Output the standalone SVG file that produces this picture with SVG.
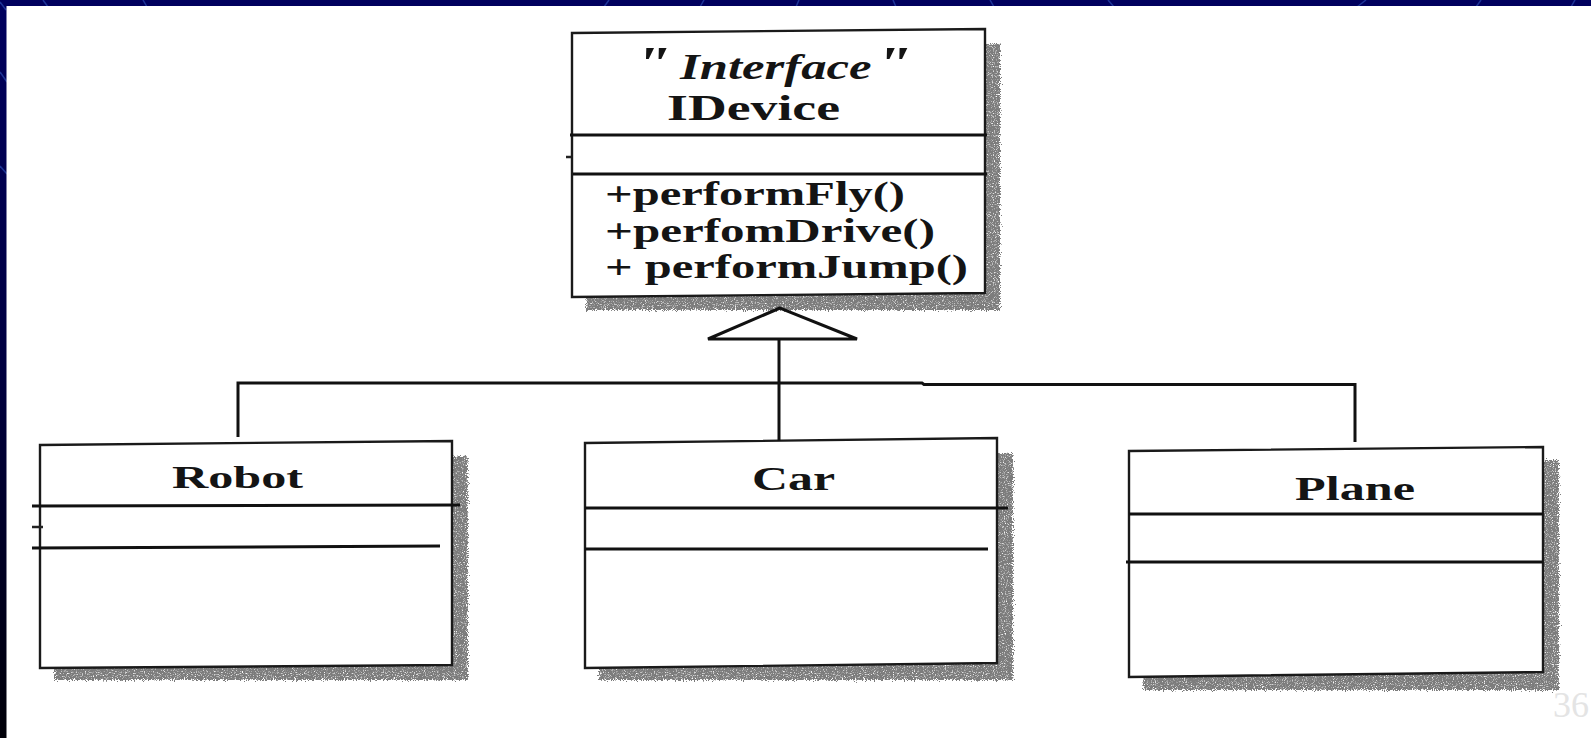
<svg xmlns="http://www.w3.org/2000/svg" width="1591" height="738" viewBox="0 0 1591 738">
  <defs>
    <linearGradient id="bgGrad" x1="0" y1="0" x2="0" y2="1">
      <stop offset="0" stop-color="#00005e"/>
      <stop offset="0.5" stop-color="#000040"/>
      <stop offset="1" stop-color="#000008"/>
    </linearGradient>
    <!-- rough, grainy drop shadow behind each class box -->
    <filter id="grain" x="-5%" y="-10%" width="112%" height="125%">
      <feTurbulence type="fractalNoise" baseFrequency="0.9" numOctaves="2" seed="7" result="noise"/>
      <feDisplacementMap in="SourceGraphic" in2="noise" scale="8" xChannelSelector="R" yChannelSelector="G" result="rough"/>
      <feColorMatrix in="noise" type="matrix" values="0 0 0 0 0.2  0 0 0 0 0.2  0 0 0 0 0.2  0 0 0 3.2 -0.5" result="speck"/>
      <feComposite in="speck" in2="rough" operator="in" result="grainy"/>
      <feGaussianBlur in="grainy" stdDeviation="0.6"/>
    </filter>
    <style>
      .shadow { fill: #333; filter: url(#grain); }
      .box { fill: #fff; stroke: #1a1a1a; stroke-width: 2.4; stroke-linejoin: miter; }
      .div { stroke: #111; stroke-width: 3; fill: none; }
      .tick { stroke: #222; stroke-width: 2.5; }
      .name { font-family: "Liberation Serif", "Times New Roman", serif; font-weight: bold; fill: #141414; }
      .op { font-family: "Liberation Serif", "Times New Roman", serif; font-weight: bold; fill: #141414; font-size: 34px; }
      .wire { stroke: #111; stroke-width: 3; fill: none; }
      .deco { stroke: #2a4ab0; stroke-width: 1.5; opacity: 0.7; fill: none; }
    </style>
  </defs>

  <!-- slide background and white content panel -->
  <rect x="0" y="0" width="1591" height="738" fill="url(#bgGrad)"/>
  <g class="deco">
    <line x1="43" y1="0" x2="48" y2="7"/>
    <line x1="143" y1="0" x2="147" y2="7"/>
    <line x1="604" y1="7" x2="609" y2="0"/>
    <line x1="700" y1="7" x2="704" y2="0"/>
    <line x1="796" y1="7" x2="799" y2="0"/>
    <line x1="893" y1="0" x2="896" y2="7"/>
    <line x1="990" y1="0" x2="994" y2="7"/>
    <line x1="1108" y1="0" x2="1114" y2="7"/>
    <line x1="1357" y1="7" x2="1366" y2="0"/>
    <line x1="1476" y1="7" x2="1481" y2="0"/>
    <line x1="1571" y1="7" x2="1575" y2="0"/>
    <line x1="0" y1="72" x2="7" y2="82"/>
    <line x1="0" y1="166" x2="7" y2="174"/>
    <line x1="0" y1="2" x2="6" y2="10"/>
  </g>
  <rect x="6.5" y="6" width="1584.5" height="732" fill="#fff"/>

  <!-- page number -->
  <text x="1553" y="717" font-family="Liberation Serif, serif" font-size="36" fill="#e4e4e4">36</text>

  <!-- IDevice interface -->
  <g id="idevice">
    <rect class="shadow" x="586" y="44" width="414" height="266"/>
    <path class="box" d="M572,33 L985,29 L985,293 L572,297 Z"/>
    <line class="div" x1="570" y1="135" x2="987" y2="135"/>
    <line class="div" x1="573" y1="174" x2="987" y2="174"/>
    <line class="tick" x1="566" y1="157" x2="571" y2="157"/>
    <text transform="translate(634,79) scale(1.45,1)" font-family="Liberation Serif, serif" font-style="italic" font-weight="bold" fill="#141414"><tspan font-size="46">"</tspan><tspan x="31.7" font-size="35">Interface</tspan><tspan x="166" font-size="46">"</tspan></text>
    <text class="name" x="667" y="120" font-size="35" textLength="173" lengthAdjust="spacingAndGlyphs">IDevice</text>
    <text class="op" x="605" y="205" textLength="300" lengthAdjust="spacingAndGlyphs">+performFly()</text>
    <text class="op" x="605" y="242" textLength="330" lengthAdjust="spacingAndGlyphs">+perfomDrive()</text>
    <text class="op" x="605" y="278" textLength="363" lengthAdjust="spacingAndGlyphs">+ performJump()</text>
  </g>

  <!-- Robot class -->
  <g id="robot">
    <rect class="shadow" x="54" y="456" width="414" height="224"/>
    <path class="box" d="M40,445 L452,441 L452,665 L40,668 Z"/>
    <line class="div" x1="32" y1="506" x2="460" y2="505"/>
    <line class="div" x1="32" y1="548" x2="440" y2="546"/>
    <line class="tick" x1="32" y1="527" x2="43" y2="527"/>
    <text class="name" x="172" y="488" font-size="32" textLength="131" lengthAdjust="spacingAndGlyphs">Robot</text>
  </g>

  <!-- Car class -->
  <g id="car">
    <rect class="shadow" x="599" y="453" width="414" height="227"/>
    <path class="box" d="M585,443 L997,438 L997,663 L585,668 Z"/>
    <line class="div" x1="585" y1="508" x2="1008" y2="508"/>
    <line class="div" x1="585" y1="549" x2="988" y2="549"/>
    <text class="name" x="752" y="490" font-size="33" textLength="83" lengthAdjust="spacingAndGlyphs">Car</text>
  </g>

  <!-- Plane class -->
  <g id="plane">
    <rect class="shadow" x="1143" y="460" width="416" height="230"/>
    <path class="box" d="M1129,451 L1543,447 L1543,672 L1129,677 Z"/>
    <line class="div" x1="1129" y1="514" x2="1543" y2="514"/>
    <line class="div" x1="1126" y1="562" x2="1543" y2="562"/>
    <text class="name" x="1295" y="500" font-size="33" textLength="120" lengthAdjust="spacingAndGlyphs">Plane</text>
  </g>

  <!-- generalization connectors -->
  <g id="connectors">
    <polygon class="wire" points="780,308 708,339 857,339" fill="#fff"/>
    <line class="wire" x1="779" y1="339" x2="779" y2="441"/>
    <polyline class="wire" points="238,437 238,383 922,383 924,384.5 1355,384.5 1355,442"/>
  </g>
</svg>
